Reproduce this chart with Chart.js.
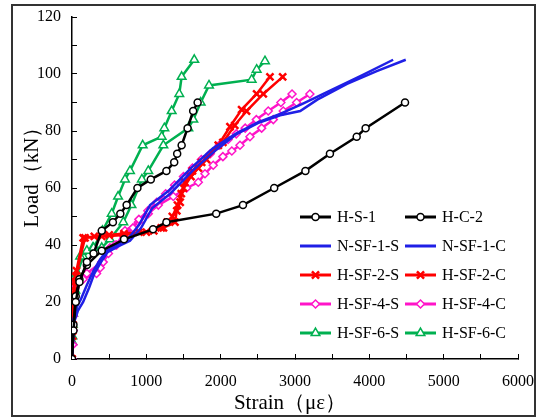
<!DOCTYPE html>
<html>
<head>
<meta charset="utf-8">
<script src="https://cdn.jsdelivr.net/npm/chart.js@4.4.1/dist/chart.umd.min.js"></script>
<style>
  html, body { margin: 0; padding: 0; background: #fff; }
  #wrap { position: relative; width: 539px; height: 418px; }
  #frame { position: absolute; left: 11px; top: 4px; width: 521px; height: 409px; border: 2px solid #333; pointer-events: none; }
</style>
</head>
<body>
<div id="wrap">
  <canvas id="chart" width="539" height="418" style="width:539px;height:418px"></canvas>
  <div id="frame"></div>
</div>
<script>
// Load–strain curves
const hs1Strain = [0, 20, 50, 100, 200, 290, 400, 550, 650, 735, 880, 1060, 1270, 1375, 1415, 1475, 1555, 1630, 1690];
const hs1Load   = [0, 10, 20, 27, 34, 37, 45, 48, 51, 54, 60, 63, 66, 69, 72, 75, 81, 87, 90];

const hc2Strain = [0, 20, 50, 100, 200, 400, 700, 1090, 1270, 1940, 2300, 2720, 3140, 3470, 3830, 3950, 4480];
const hc2Load   = [0, 12, 22, 28, 33, 38, 42, 45.5, 48, 51, 54, 60, 66, 72, 78, 81, 90];

const nsf1sStrain = [0, 20, 60, 120, 200, 290, 380, 470, 600, 750, 900, 1050, 1300, 1600, 1900, 2200, 2500, 2800, 3100, 3500, 3900, 4320];
const nsf1sLoad   = [0, 14, 18, 21, 26, 31, 35, 38, 40, 42, 47, 54, 59, 67, 74, 79, 83, 86, 89.5, 94.5, 99.5, 105];

const nsf1cStrain = [0, 30, 80, 150, 230, 300, 390, 480, 620, 780, 930, 1080, 1320, 1620, 1920, 2220, 2520, 2800, 3070, 3300, 3700, 4100, 4490];
const nsf1cLoad   = [0, 13, 17, 20, 25, 30, 34, 37.5, 39.5, 41.5, 46, 53, 58, 66, 73, 79, 83, 85.5, 87, 91, 96.5, 101, 105];

const hsf2sStrain = [0, 10, 20, 30, 60, 150, 300, 500, 700, 900, 1100, 1200, 1280, 1350, 1420, 1470, 1520, 1620, 1744, 1968, 2125, 2282, 2484, 2663];
const hsf2sLoad   = [0, 8, 18, 27, 31, 42.5, 43, 43.5, 44, 44.5, 45, 46, 48, 50, 54, 58, 62, 66, 69, 75, 81.5, 87.5, 93, 99];

const hsf2cStrain = [0, 15, 30, 50, 175, 400, 700, 1000, 1230, 1385, 1410, 1455, 1500, 1600, 1700, 1810, 2030, 2190, 2348, 2573, 2834];
const hsf2cLoad   = [0, 12, 24, 29, 42.5, 43, 43.5, 44.5, 46, 48, 52, 55, 60, 64, 67, 70, 76, 82, 87, 93, 99];

const hsf4sStrain = [0, 10, 15, 15, 15, 20, 40, 150, 330, 380, 420, 490, 580, 700, 820, 900, 1020, 1140, 1260, 1380, 1500, 1620, 1740, 1860, 1980, 2100, 2210, 2330, 2480, 2640, 2810, 2960];
const hsf4sLoad   = [0, 5, 10, 15, 20, 24, 26, 28, 30, 32, 34, 37, 40, 43, 46, 49, 52, 55, 58, 61, 64, 67, 70, 72, 75, 77, 79, 81, 84, 87, 90, 93];

const hsf4cStrain = [0, 10, 15, 15, 20, 40, 200, 400, 510, 600, 713, 892, 1026, 1161, 1363, 1543, 1699, 1789, 1900, 2030, 2150, 2260, 2394, 2551, 2708, 2842, 3022, 3200];
const hsf4cLoad   = [0, 5, 10, 15, 20, 25, 30, 34, 39, 40, 45, 48, 51, 54, 57, 60, 62, 65, 68, 71, 73, 75, 78, 81, 84, 87, 90, 93];

const hsf6sStrain = [0, 5, 10, 25, 45, 70, 110, 200, 290, 410, 534, 620, 713, 780, 951, 1206, 1242, 1341, 1443, 1475, 1645];
const hsf6sLoad   = [0, 6, 12, 18, 24, 30, 36, 38, 39, 45, 51, 57, 63, 66, 75, 78, 81, 87, 93, 99, 105];

const hsf6cStrain = [0, 5, 15, 35, 70, 150, 280, 400, 510, 690, 800, 940, 1026, 1229, 1565, 1632, 1731, 1843, 2417, 2484, 2596];
const hsf6cLoad   = [0, 8, 16, 24, 30, 36, 39, 39, 42, 48, 54, 63, 66, 75, 81, 84, 90, 96, 98, 101.5, 104.5];

const seriesNames = ['H-S-1', 'H-C-2', 'N-SF-1-S', 'N-SF-1-C', 'H-SF-2-S', 'H-SF-2-C', 'H-SF-4-S', 'H-SF-4-C', 'H-SF-6-S', 'H-SF-6-C'];

const BLACK = '#000000', BLUE = '#1f1fe6', RED = '#ff0000', MAGENTA = '#ff14c8', GREEN = '#00b050';
const SERIF = "'Liberation Serif', 'Times New Roman', serif";

function series(label, xs, ys, color, style, radius) {
  return {
    label,
    data: xs.map((x, i) => ({ x, y: ys[i] })),
    borderColor: color,
    backgroundColor: '#fff',
    borderWidth: 2.5,
    pointStyle: style || 'circle',
    pointRadius: style ? radius : 0,
    pointBorderWidth: style === 'crossRot' ? 2.5 : 1.5,
    pointBorderColor: color,
    pointBackgroundColor: '#fff',
    tension: 0,
    fill: false
  };
}

const datasets = [
  series(seriesNames[0], hs1Strain, hs1Load, BLACK, 'circle', 3.5),
  series(seriesNames[1], hc2Strain, hc2Load, BLACK, 'circle', 3.5),
  series(seriesNames[2], nsf1sStrain, nsf1sLoad, BLUE, null, 0),
  series(seriesNames[3], nsf1cStrain, nsf1cLoad, BLUE, null, 0),
  series(seriesNames[4], hsf2sStrain, hsf2sLoad, RED, 'crossRot', 5),
  series(seriesNames[5], hsf2cStrain, hsf2cLoad, RED, 'crossRot', 5),
  series(seriesNames[6], hsf4sStrain, hsf4sLoad, MAGENTA, 'rectRot', 4),
  series(seriesNames[7], hsf4cStrain, hsf4cLoad, MAGENTA, 'rectRot', 4),
  series(seriesNames[8], hsf6sStrain, hsf6sLoad, GREEN, 'triangle', 5),
  series(seriesNames[9], hsf6cStrain, hsf6cLoad, GREEN, 'triangle', 5)
];

// markers for the hand-placed legend
function drawMarker(ctx, ds, x, y) {
  if (!ds.pointRadius) return;
  ctx.save();
  ctx.strokeStyle = ds.pointBorderColor;
  ctx.fillStyle = '#fff';
  ctx.lineWidth = ds.pointBorderWidth;
  if (Chart.helpers && Chart.helpers.drawPoint) {
    Chart.helpers.drawPoint(ctx, { pointStyle: ds.pointStyle, radius: ds.pointRadius, rotation: 0, borderWidth: ds.pointBorderWidth }, x, y);
  } else {
    ctx.beginPath();
    ctx.arc(x, y, ds.pointRadius, 0, Math.PI * 2);
    ctx.fill(); ctx.stroke();
  }
  ctx.restore();
}

const extras = {
  id: 'extras',
  afterDraw(chart) {
    const ctx = chart.ctx;
    ctx.save();
    ctx.fillStyle = '#000';
    // axis titles
    ctx.font = '21px ' + SERIF;
    ctx.textAlign = 'center';
    ctx.textBaseline = 'middle';
    ctx.fillText('Strain（με）', 290, 403);
    ctx.save();
    ctx.translate(32, 172);
    ctx.rotate(-Math.PI / 2);
    ctx.fillText('Load（kN）', 0, 0);
    ctx.restore();

    // legend, two columns
    const colX = [300, 405];
    const rowY = [217, 246, 275, 304, 333];
    ctx.font = '16px ' + SERIF;
    ctx.textAlign = 'left';
    chart.data.datasets.forEach((ds, i) => {
      const x0 = colX[i % 2], y = rowY[Math.floor(i / 2)];
      ctx.strokeStyle = ds.borderColor;
      ctx.lineWidth = ds.borderWidth + 0.5;
      ctx.beginPath();
      ctx.moveTo(x0, y);
      ctx.lineTo(x0 + 31, y);
      ctx.stroke();
      drawMarker(ctx, ds, x0 + 15.5, y);
      ctx.fillStyle = '#000';
      ctx.fillText(ds.label, x0 + 37, y + 1);
    });
    ctx.restore();
  }
};

const tickFont = { family: SERIF, size: 16 };

// keep the plot box fixed: no automatic label padding
function noPad(s) {
  s.paddingTop = 0; s.paddingBottom = 0; s.paddingLeft = 0; s.paddingRight = 0;
}

new Chart(document.getElementById('chart'), {
  type: 'line',
  data: { datasets },
  options: {
    responsive: false,
    animation: false,
    layout: { padding: { left: 0, right: 21, top: 17, bottom: 0 } },
    plugins: { legend: { display: false }, tooltip: { enabled: false } },
    scales: {
      x: {
        type: 'linear', min: 0, max: 6000,
        ticks: {
          stepSize: 500, autoSkip: false, maxRotation: 0, padding: 18, color: '#000', font: tickFont,
          callback: v => (v % 1000 === 0 ? String(v) : '')
        },
        grid: { drawOnChartArea: false, drawTicks: true, tickLength: -5, color: '#000', lineWidth: 1 },
        border: { color: '#000', width: 1.5 },
        afterFit: s => { s.height = 59; noPad(s); }
      },
      y: {
        min: 0, max: 120,
        ticks: {
          stepSize: 10, autoSkip: false, padding: 16, color: '#000', font: tickFont,
          callback: v => (v % 20 === 0 ? String(v) : '')
        },
        grid: { drawOnChartArea: false, drawTicks: true, tickLength: -5, color: '#000', lineWidth: 1 },
        border: { color: '#000', width: 1.5 },
        afterFit: s => { s.width = 72; noPad(s); }
      }
    }
  },
  plugins: [extras]
});
</script>
</body>
</html>
